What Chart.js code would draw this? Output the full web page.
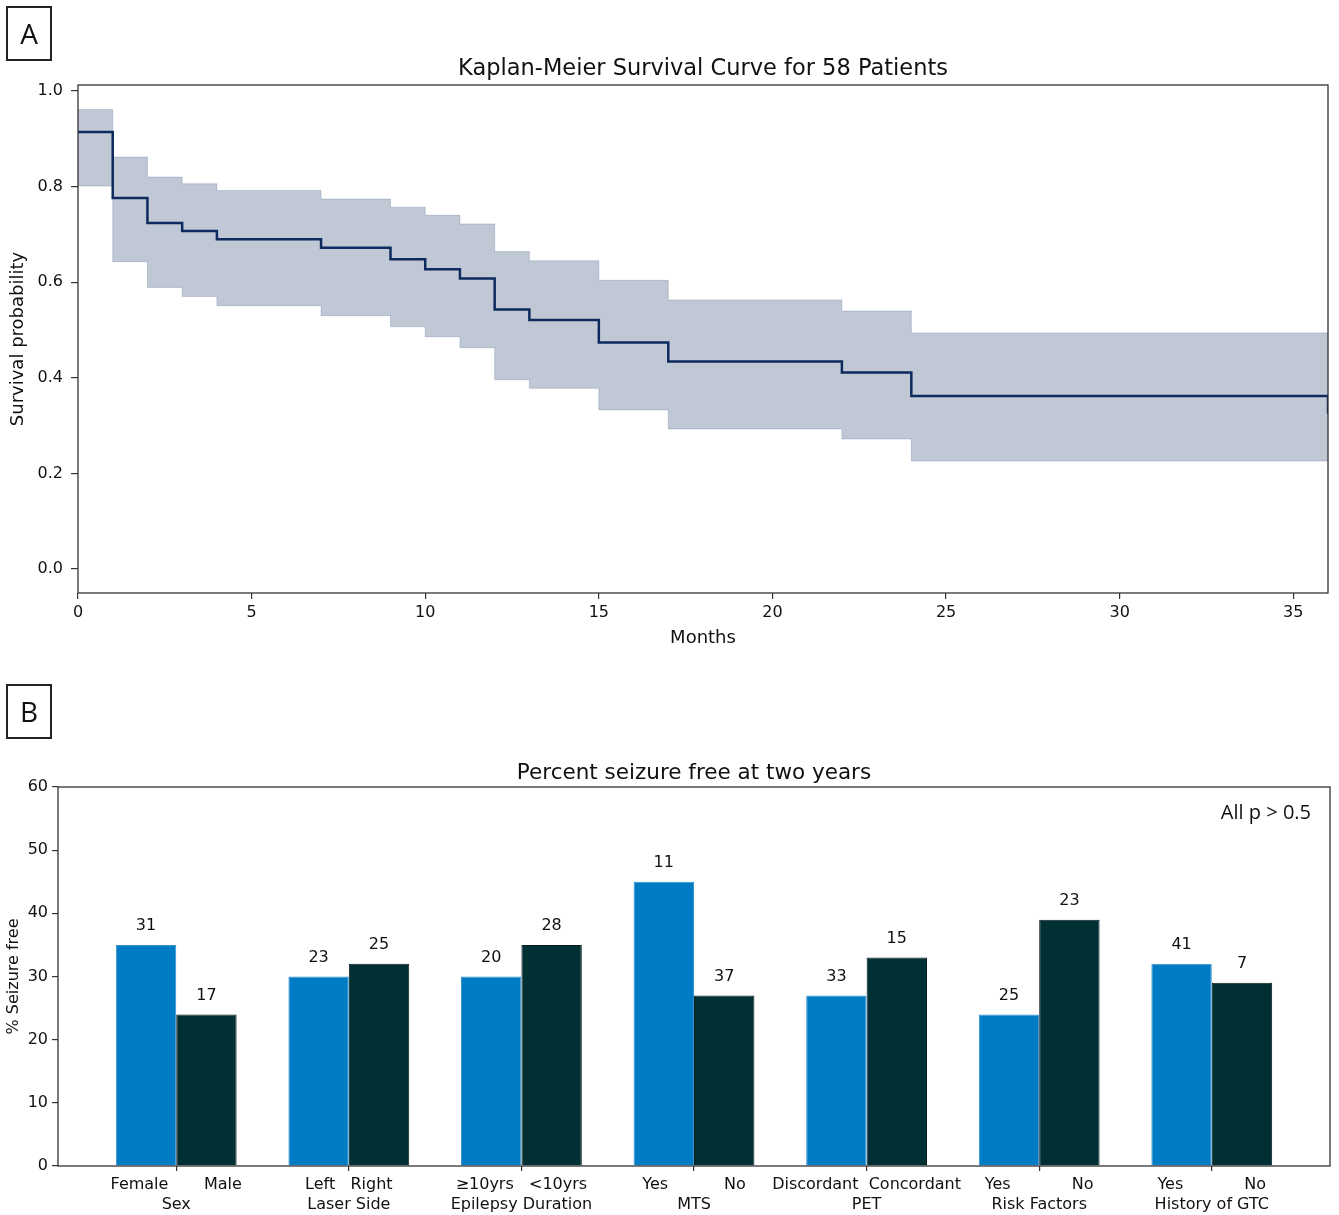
<!DOCTYPE html>
<html>
<head>
<meta charset="utf-8">
<script src="https://cdn.jsdelivr.net/npm/chart.js@4.4.0/dist/chart.umd.min.js"></script>
<style>
  body { margin: 0; background: #fff; width: 1339px; height: 1215px; position: relative; overflow: hidden; }
  canvas { position: absolute; left: 0; }
  #kmChart { top: 0; }
  #barChart { top: 660px; }
  .panel { position: absolute; left: 6px; width: 42px; height: 51px; border: 2px solid #222;
           font: 28px "Open Sans", sans-serif; color: #111; text-align: center; line-height: 51px; }
</style>
</head>
<body>
<canvas id="kmChart" width="1339" height="660"></canvas>
<canvas id="barChart" width="1339" height="555"></canvas>
<div class="panel" style="top:6px">A</div>
<div class="panel" style="top:684px">B</div>
<script>
// panel A - Kaplan-Meier
var months   = [0, 1, 2, 3, 4, 7, 9, 10, 11, 12, 13, 15, 17, 22, 24, 36];
var survival = [0.914, 0.776, 0.724, 0.707, 0.690, 0.672, 0.648, 0.627, 0.608, 0.543, 0.521, 0.474, 0.434, 0.411, 0.362, 0.325];
var ciUpper  = [0.961, 0.862, 0.820, 0.806, 0.792, 0.774, 0.757, 0.740, 0.722, 0.664, 0.645, 0.604, 0.563, 0.540, 0.494, 0.494];
var ciLower  = [0.801, 0.643, 0.589, 0.570, 0.551, 0.530, 0.507, 0.486, 0.463, 0.396, 0.378, 0.333, 0.293, 0.272, 0.226, 0.226];
var monthTicks = [0, 5, 10, 15, 20, 25, 30, 35];
var probTicks  = [0, 0.2, 0.4, 0.6, 0.8, 1.0];

// panel B - percent seizure free
var groups    = ["Sex", "Laser Side", "Epilepsy Duration", "MTS", "PET", "Risk Factors", "History of GTC"];
var subLabels = ["Female       Male", "Left   Right", "\u226510yrs   <10yrs", "Yes           No",
                 "Discordant  Concordant", "Yes            No", "Yes            No"];
var firstPct  = [35, 30, 30, 45, 27, 24, 32];
var secondPct = [24, 32, 35, 27, 33, 39, 29];
var firstN    = [31, 23, 20, 11, 33, 25, 41];
var secondN   = [17, 25, 28, 37, 15, 23, 7];
var pctTicks  = [0, 10, 20, 30, 40, 50, 60];

var FONT = 'DejaVu Sans';
var TXT = '#111';

var frame = {
  id: 'frame',
  afterDatasetsDraw: function(chart) {
    var a = chart.chartArea, c = chart.ctx;
    c.save();
    c.strokeStyle = '#333';
    c.lineWidth = 1.3;
    c.strokeRect(a.left, a.top, a.right - a.left, a.bottom - a.top);
    c.restore();
  }
};

function pts(ys) {
  return months.map(function(m, i) { return {x: m, y: ys[i]}; });
}
function fixTicks(list) {
  return function(s) { s.ticks = list.map(function(v) { return {value: v}; }); };
}

new Chart(document.getElementById('kmChart'), {
  type: 'line',
  data: {
    datasets: [
      {data: pts(survival), borderColor: '#0d2b5e', borderWidth: 2.5, stepped: true, pointRadius: 0, fill: false},
      {data: pts(ciUpper), borderColor: 'rgba(13,43,94,0.18)', borderWidth: 1, stepped: true, pointRadius: 0,
       backgroundColor: 'rgba(13,43,94,0.26)', fill: '+1'},
      {data: pts(ciLower), borderColor: 'rgba(13,43,94,0.18)', borderWidth: 1, stepped: true, pointRadius: 0, fill: false}
    ]
  },
  options: {
    responsive: false,
    animation: false,
    layout: {padding: {left: 0, right: 11, top: 0, bottom: 0}},
    plugins: {
      legend: {display: false},
      tooltip: {enabled: false},
      title: {display: true, fullSize: false, text: 'Kaplan-Meier Survival Curve for 58 Patients', color: TXT,
              font: {family: FONT, size: 22.5, weight: 'normal'}, padding: {top: 56, bottom: 2}}
    },
    scales: {
      x: {
        type: 'linear', min: 0, max: 36,
        afterBuildTicks: fixTicks(monthTicks),
        afterFit: function(s) { s.height = 67; },
        grid: {drawOnChartArea: false, drawTicks: true, tickLength: 6, color: '#333', lineWidth: 1.2},
        border: {display: false},
        ticks: {font: {family: FONT, size: 16}, color: TXT, padding: 4, maxRotation: 0, autoSkip: false},
        title: {display: true, text: 'Months', color: TXT, font: {family: FONT, size: 18}, padding: {top: 0, bottom: 11}}
      },
      y: {
        type: 'linear', min: -0.05, max: 1.0125,
        afterBuildTicks: fixTicks(probTicks),
        afterFit: function(s) { s.width = 78; },
        grid: {drawOnChartArea: false, drawTicks: true, tickLength: 7, color: '#333', lineWidth: 1.2},
        border: {display: false},
        ticks: {font: {family: FONT, size: 16}, color: TXT, padding: 8,
                callback: function(v) { return v.toFixed(1); }},
        title: {display: true, text: 'Survival probability', color: TXT, font: {family: FONT, size: 18}, padding: {top: 8, bottom: 0}}
      }
    }
  },
  plugins: [frame]
});

var countLabels = {
  id: 'countLabels',
  afterDatasetsDraw: function(chart) {
    var c = chart.ctx, a = chart.chartArea;
    c.save();
    c.font = '16px "' + FONT + '"';
    c.fillStyle = TXT;
    c.textAlign = 'center';
    c.textBaseline = 'middle';
    [firstN, secondN].forEach(function(arr, d) {
      chart.getDatasetMeta(d).data.forEach(function(bar, i) {
        c.fillText(String(arr[i]), bar.x, bar.y - 19);
      });
    });
    c.font = '20px "Open Sans"';
    c.fillStyle = '#111';
    c.textAlign = 'right';
    c.fillText('All p > 0.5', a.right - 19, a.top + 26);
    c.restore();
  }
};

function barPts(vals) {
  return vals.map(function(v, i) { return {x: i, y: v}; });
}

new Chart(document.getElementById('barChart'), {
  type: 'bar',
  data: {
    datasets: [
      {data: barPts(firstPct), backgroundColor: '#007cc5', borderColor: '#3591d2', borderWidth: 1,
       categoryPercentage: 0.7, barPercentage: 1.0},
      {data: barPts(secondPct), backgroundColor: '#003033', borderColor: '#0b1c1d', borderWidth: 1,
       categoryPercentage: 0.7, barPercentage: 1.0}
    ]
  },
  options: {
    responsive: false,
    animation: false,
    layout: {padding: {left: 0, right: 9, top: 0, bottom: 0}},
    plugins: {
      legend: {display: false},
      tooltip: {enabled: false},
      title: {display: true, fullSize: false, text: 'Percent seizure free at two years', color: TXT,
              font: {family: FONT, size: 21.5, weight: 'normal'}, padding: {top: 100.5, bottom: 0.7}}
    },
    scales: {
      x: {
        type: 'linear', min: -0.685, max: 6.685, offset: false,
        afterBuildTicks: fixTicks(groups.map(function(g, i) { return i; })),
        afterFit: function(s) { s.height = 49; },
        grid: {drawOnChartArea: false, drawTicks: true, tickLength: 5, color: '#333', lineWidth: 1.2, offset: false},
        border: {display: false},
        ticks: {font: {family: FONT, size: 16, lineHeight: 1.25}, color: TXT, padding: 4, maxRotation: 0, autoSkip: false,
                callback: function(v, i) { return [subLabels[i], groups[i]]; }}
      },
      y: {
        type: 'linear', min: 0, max: 60,
        afterBuildTicks: fixTicks(pctTicks),
        afterFit: function(s) { s.width = 58; },
        grid: {drawOnChartArea: false, drawTicks: true, tickLength: 6, color: '#333', lineWidth: 1.2},
        border: {display: false},
        ticks: {font: {family: FONT, size: 16}, color: TXT, padding: 4},
        title: {display: true, text: '% Seizure free', color: TXT, font: {family: FONT, size: 16}, padding: {top: 4, bottom: 0}}
      }
    }
  },
  plugins: [frame, countLabels]
});
</script>
</body>
</html>
